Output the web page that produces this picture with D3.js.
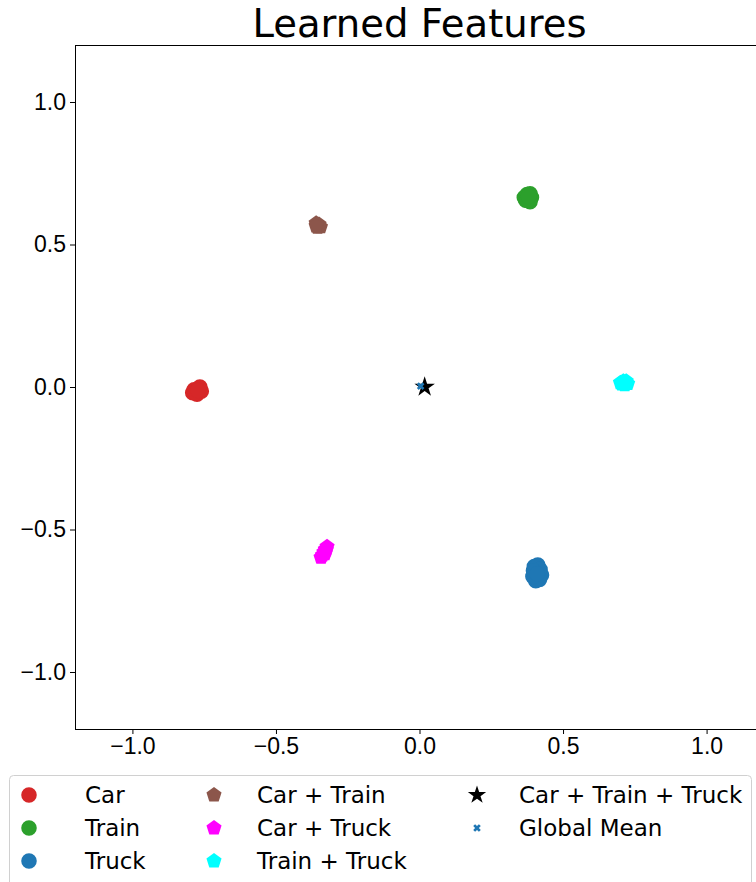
<!DOCTYPE html>
<html>
<head>
<meta charset="utf-8">
<script src="https://cdn.jsdelivr.net/npm/d3@7"></script>
<style>
  body { margin: 0; background: #fff; }
  svg { display: block; font-family: "DejaVu Sans", sans-serif; }
  .axis text { font-size: 23px; fill: #000; }
  .axis path, .axis line { stroke: #000; stroke-width: 1; }
</style>
</head>
<body>
<svg width="756" height="882"></svg>
<script>
// feature points, one array per group
var carPts = [[-0.79,-0.02],[-0.785,-0.01],[-0.775,-0.025],[-0.77,-0.005],[-0.765,0.0],[-0.76,-0.015],[-0.78,-0.02],[-0.772,-0.012]];
var trainPts = [[0.37,0.655],[0.365,0.665],[0.375,0.675],[0.385,0.678],[0.39,0.665],[0.385,0.65],[0.375,0.655],[0.38,0.668]];
var truckPts = [[0.40,-0.63],[0.412,-0.625],[0.42,-0.64],[0.425,-0.66],[0.418,-0.675],[0.405,-0.68],[0.395,-0.665],[0.397,-0.645],[0.41,-0.655]];
var carTrainPts = [[-0.36,0.575],[-0.35,0.57],[-0.355,0.56],[-0.345,0.562],[-0.36,0.565]];
var carTruckPts = [[-0.322,-0.56],[-0.328,-0.57],[-0.333,-0.58],[-0.338,-0.59],[-0.343,-0.598],[-0.33,-0.585],[-0.325,-0.572]];
var trainTruckPts = [[0.70,0.015],[0.71,0.02],[0.72,0.02],[0.725,0.012],[0.705,0.01],[0.715,0.008]];
var allThreePts = [[0.018,0.0]];
var globalMeanPts = [[0.004,0.003]];

var groupNames = ['Car', 'Train', 'Truck', 'Car + Train', 'Car + Truck', 'Train + Truck', 'Car + Train + Truck', 'Global Mean'];
var groupColors = ['#d62728', '#2ca02c', '#1f77b4', '#8c564b', '#ff00ff', '#00ffff', '#000000', '#1f77b4'];
var groupShapes = ['circle', 'circle', 'circle', 'pentagon', 'pentagon', 'pentagon', 'star', 'xmark'];
var groupPts = [carPts, trainPts, truckPts, carTrainPts, carTruckPts, trainTruckPts, allThreePts, globalMeanPts];

var xTicks = [-1.0, -0.5, 0.0, 0.5, 1.0];
var yTicks = [-1.0, -0.5, 0.0, 0.5, 1.0];

var svg = d3.select('svg');

var plot = { l: 75, t: 45, w: 689, h: 684 };

var xScale = d3.scaleLinear().domain([-1.2, 1.2]).range([plot.l, plot.l + plot.w]);
var yScale = d3.scaleLinear().domain([-1.2, 1.2]).range([plot.t + plot.h, plot.t]);

// pentagon pointing up, size is roughly the area like d3 symbols
var pentagon = {
    draw: function (ctx, size) {
        var r = Math.sqrt(size / 2.3776);
        for (var i = 0; i < 5; i++) {
            var a = -Math.PI / 2 + i * 2 * Math.PI / 5;
            if (i === 0) ctx.moveTo(r * Math.cos(a), r * Math.sin(a));
            else ctx.lineTo(r * Math.cos(a), r * Math.sin(a));
        }
        ctx.closePath();
    }
};

function symbolPath(shape, scale) {
    scale = scale || 1;
    if (shape === 'circle') return d3.symbol(d3.symbolCircle, 190 * scale)();
    if (shape === 'pentagon') return d3.symbol(pentagon, 150 * scale)();
    if (shape === 'star') return d3.symbol(d3.symbolStar, 130 * scale)();
    return d3.symbol(d3.symbolCross, 36 * scale)();
}

// axes
svg.append('g').attr('class', 'axis')
    .attr('transform', `translate(0, ${plot.t + plot.h})`)
    .call(d3.axisBottom(xScale).tickValues(xTicks).tickFormat(d3.format('.1f')).tickSizeInner(5).tickSizeOuter(0).tickPadding(4))
    .call(g => g.select('.domain').remove());

svg.append('g').attr('class', 'axis')
    .attr('transform', `translate(${plot.l}, 0)`)
    .call(d3.axisLeft(yScale).tickValues(yTicks).tickFormat(d3.format('.1f')).tickSizeInner(5).tickSizeOuter(0).tickPadding(4))
    .call(g => g.select('.domain').remove());

svg.append('rect')
    .attr('x', plot.l + 0.5).attr('y', plot.t + 0.5)
    .attr('width', plot.w).attr('height', plot.h)
    .attr('fill', 'none').attr('stroke', '#000').attr('stroke-width', 1);

// points
groupPts.forEach(function (pts, gi) {
    svg.append('g').selectAll('path')
        .data(pts)
        .enter().append('path')
        .attr('transform', function (d) {
            var rot = groupShapes[gi] === 'xmark' ? ' rotate(45)' : '';
            return `translate(${xScale(d[0])}, ${yScale(d[1])})` + rot;
        })
        .attr('d', symbolPath(groupShapes[gi]))
        .attr('fill', groupColors[gi]);
});

// title
svg.append('text')
    .attr('x', plot.l + plot.w / 2).attr('y', 37)
    .attr('text-anchor', 'middle')
    .style('font-size', '38.6px')
    .text('Learned Features');

// legend
svg.append('rect')
    .attr('x', 9.5).attr('y', 775.5).attr('width', 742).attr('height', 130)
    .attr('rx', 4)
    .attr('fill', '#fff').attr('stroke', '#d0d0d0').attr('stroke-width', 1);

var colX = [29, 214, 477];
var rowY = [795, 828, 861];
var legendG = svg.append('g').selectAll('g')
    .data(groupNames)
    .enter().append('g')
    .attr('transform', function (d, i) {
        return `translate(${colX[Math.floor(i / 3)]}, ${rowY[i % 3]})`;
    });

legendG.append('path')
    .attr('d', function (d, i) { return symbolPath(groupShapes[i], groupShapes[i] === 'star' ? 0.8 : 1); })
    .attr('transform', function (d, i) { return groupShapes[i] === 'xmark' ? 'rotate(45)' : null; })
    .attr('fill', function (d, i) { return groupColors[i]; });

legendG.append('text')
    .attr('x', function (d, i) { return [56, 43, 42][Math.floor(i / 3)]; })
    .attr('y', 8)
    .style('font-size', '23px')
    .text(function (d) { return d; });
</script>
</body>
</html>
